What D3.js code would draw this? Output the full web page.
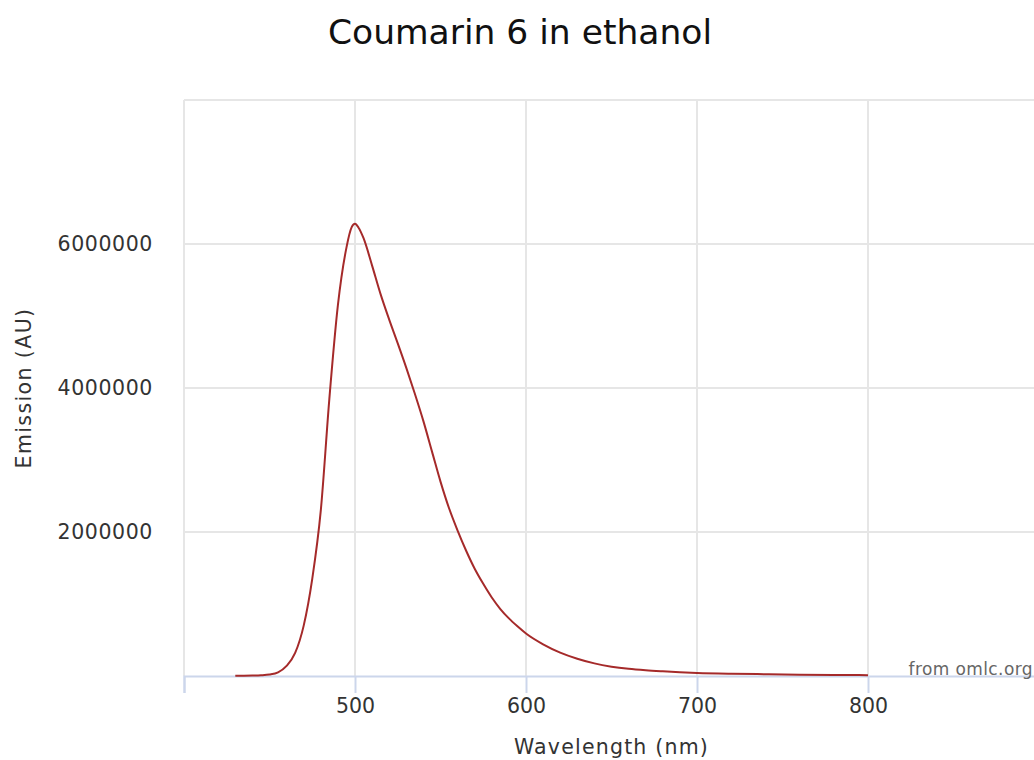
<!DOCTYPE html>
<html>
<head>
<meta charset="utf-8">
<script src="https://cdn.jsdelivr.net/npm/d3@7"></script>
<style>
  html, body { margin: 0; padding: 0; background: #fff; }
  svg { display: block; }
  text { font-family: "DejaVu Sans", sans-serif; }
</style>
</head>
<body>
<svg id="chart" width="1034" height="760"></svg>
<script>
// ---- data ----
const wavelengths = [430,435,440,445,450,455,460,465,470,475,480,485,490,495,498,500,502,505,510,515,520,525,530,535,540,545,550,555,560,565,570,575,580,585,590,595,600,610,620,630,640,650,660,670,680,690,700,720,740,760,780,800];
const emission = [3000,4000,6000,10000,20000,50000,140000,320000,700000,1350000,2300000,3850000,5150000,5950000,6230000,6280000,6230000,6080000,5700000,5300000,4950000,4620000,4280000,3920000,3540000,3120000,2700000,2330000,2020000,1740000,1490000,1280000,1090000,930000,800000,690000,590000,440000,325000,240000,175000,130000,100000,80000,65000,52000,43000,32000,25000,19000,15000,12000];
const xTicks = [400,500,600,700,800,900];
const xTickLabels = ["", "500", "600", "700", "800", ""];
const yTicks = [0,2000000,4000000,6000000,8000000];
const yTickLabels = ["", "2000000", "4000000", "6000000", ""];
const titleText = "Coumarin 6 in ethanol";
const xTitle = "Wavelength (nm)";
const yTitle = "Emission (AU)";
const creditText = "from omlc.org";

(function () {
// ---- layout ----
const mLeft = 184, mTop = 100, plotW = 855, plotH = 576;

const svg = d3.select("#chart");
const x = d3.scaleLinear().domain([400, 900]).range([mLeft, mLeft + plotW]);
const y = d3.scaleLinear().domain([0, 8000000]).range([mTop + plotH, mTop]);

// grid lines
const grid = svg.append("g");
grid.selectAll("line.h").data(yTicks.filter(d => d > 0)).enter().append("line")
  .attr("class", "h")
  .attr("x1", mLeft).attr("x2", mLeft + plotW)
  .attr("y1", d => y(d)).attr("y2", d => y(d))
  .attr("stroke", "#e6e6e6").attr("stroke-width", 2);
grid.selectAll("line.v").data(xTicks).enter().append("line")
  .attr("class", "v")
  .attr("x1", d => x(d)).attr("x2", d => x(d))
  .attr("y1", mTop).attr("y2", mTop + plotH)
  .attr("stroke", "#e6e6e6").attr("stroke-width", 2);

// x axis
const xAxis = d3.axisBottom(x).tickValues(xTicks)
  .tickFormat((d, i) => xTickLabels[i]).tickSize(17).tickPadding(5);
const gx = svg.append("g").attr("transform", `translate(0,${mTop + plotH})`).call(xAxis);
gx.select(".domain").attr("stroke", "#ccd6eb").attr("stroke-width", 2);
gx.selectAll(".tick line").attr("stroke", "#ccd6eb").attr("stroke-width", 2);
gx.selectAll(".tick text").attr("fill", "#333").style("font-size", "20.5px")
  .attr("dy", "0.71em").attr("y", 22);

// y axis labels
const yAxis = d3.axisLeft(y).tickValues(yTicks)
  .tickFormat((d, i) => yTickLabels[i]).tickSize(0).tickPadding(31);
const gy = svg.append("g").attr("transform", `translate(${mLeft},0)`).call(yAxis);
gy.select(".domain").remove();
gy.selectAll(".tick text").attr("fill", "#333").style("font-size", "20.5px")
  .style("letter-spacing", "0.6px");

// line
const line = d3.line()
  .x((d, i) => x(wavelengths[i]))
  .y(d => y(d))
  .curve(d3.curveMonotoneX);
svg.append("path").datum(emission)
  .attr("d", line)
  .attr("fill", "none")
  .attr("stroke", "#a52a2a")
  .attr("stroke-width", 2);

// title
svg.append("text").attr("x", 520).attr("y", 44)
  .attr("text-anchor", "middle").attr("fill", "#111")
  .style("font-size", "34.5px")
  .text(titleText);

// axis titles
svg.append("text").attr("x", mLeft + plotW / 2).attr("y", 754)
  .attr("text-anchor", "middle").attr("fill", "#333")
  .style("font-size", "20.5px").style("letter-spacing", "1.2px")
  .text(xTitle);
svg.append("text")
  .attr("transform", `translate(31,${mTop + plotH / 2}) rotate(-90)`)
  .attr("text-anchor", "middle").attr("fill", "#333")
  .style("font-size", "20.5px").style("letter-spacing", "1.4px")
  .text(yTitle);

// credit
svg.append("text").attr("x", 1033).attr("y", 675)
  .attr("text-anchor", "end").attr("fill", "#666")
  .style("font-size", "17px").style("letter-spacing", "0.4px")
  .text(creditText);
})();
</script>
</body>
</html>
